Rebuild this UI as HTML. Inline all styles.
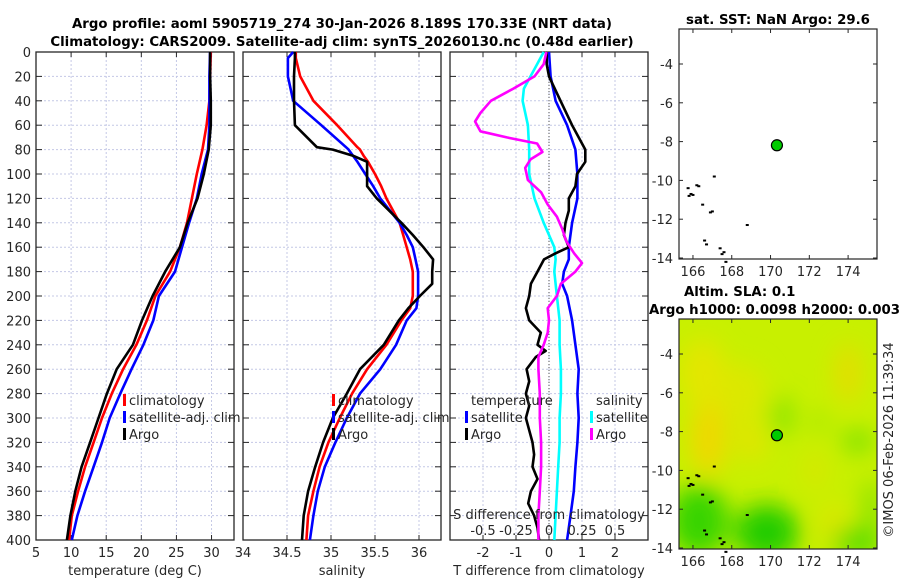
<!DOCTYPE html>
<html><head><meta charset="utf-8">
<style>
body{margin:0;background:#fff;}
svg{display:block;font-family:"DejaVu Sans","Liberation Sans",sans-serif;}
.tk{font-size:13px;fill:#262626;}
.tt{font-size:13.3px;font-weight:bold;fill:#000;}
</style></head>
<body>
<svg id="fig" width="900" height="580" viewBox="0 0 900 580" xmlns="http://www.w3.org/2000/svg">
<text class="tt" x="342" y="28" text-anchor="middle">Argo profile: aoml 5905719_274 30-Jan-2026 8.189S 170.33E (NRT data)</text>
<text class="tt" x="342" y="46" text-anchor="middle">Climatology: CARS2009. Satellite-adj clim: synTS_20260130.nc (0.48d earlier)</text>
<g id="g1"></g>
<g id="g2"></g>
<g id="g3"></g>
<g id="m1"></g>
<g id="m2"></g>
<text class="tt" x="778" y="24" text-anchor="middle">sat. SST: NaN Argo: 29.6</text>
<text class="tt" x="684" y="296">Altim. SLA: 0.1</text>
<text class="tt" x="649" y="314">Argo h1000: 0.0098 h2000: 0.0039</text>
<text class="tk" x="0" y="0" transform="translate(893,440) rotate(-90)" text-anchor="middle">©IMOS 06-Feb-2026 11:39:34</text>
</svg>
<script>
// depth levels (m)
const depths=[0,20,40,60,80,100,120,140,160,180,200,220,240,260,280,300,320,340,360,380,400];
const tempClim=[29.9,29.8,29.7,29.3,28.7,27.9,27.2,26.5,25.5,24.1,22.0,20.8,19.3,17.4,15.8,14.4,13.2,12.0,11.0,10.1,9.7];
const tempSat=[29.8,29.7,29.7,29.7,29.5,28.6,27.9,26.8,25.8,24.8,22.5,21.7,20.3,18.6,17.0,15.5,14.4,13.2,12.0,10.9,10.1];
const tempArgo=[29.8,29.8,29.9,29.9,29.6,28.9,28.0,26.6,25.5,23.4,21.6,20.1,18.8,16.5,15.1,13.9,12.7,11.5,10.6,9.9,9.4];
const salDepths=[0,5,20,40,60,78,80,85,90,100,110,120,140,150,160,170,180,190,200,210,220,240,260,280,300,320,340,360,380,400];
const salClim=[34.60,34.60,34.65,34.80,35.07,35.30,35.33,35.37,35.42,35.50,35.57,35.63,35.78,35.82,35.86,35.90,35.93,35.93,35.93,35.90,35.80,35.63,35.41,35.24,35.10,34.97,34.87,34.80,34.74,34.72];
const salSat=[34.57,34.51,34.51,34.57,34.89,35.17,35.20,35.25,35.30,35.39,35.48,35.56,35.78,35.86,35.93,35.96,35.99,35.99,35.99,35.97,35.86,35.74,35.56,35.33,35.18,35.05,34.93,34.85,34.80,34.76];
const salArgo=[34.59,34.59,34.58,34.58,34.59,34.84,35.02,35.25,35.41,35.41,35.41,35.52,35.80,35.93,36.05,36.16,36.15,36.15,36.01,35.88,35.77,35.60,35.33,35.18,35.02,34.91,34.82,34.74,34.69,34.67];
const dT_depths=[0,10,20,40,60,80,90,100,110,120,130,140,150,160,165,170,180,190,200,210,220,230,240,245,250,260,270,280,290,300,310,320,330,340,350,360,370,380,390,400];
const dT_argo=[-0.07,-0.07,0,0.35,0.7,1.1,1.1,0.85,0.8,0.6,0.6,0.5,0.45,0.6,0.2,-0.15,-0.35,-0.55,-0.6,-0.7,-0.6,-0.25,-0.35,-0.1,-0.4,-0.68,-0.6,-0.7,-0.6,-0.7,-0.6,-0.5,-0.45,-0.5,-0.35,-0.55,-0.63,-0.45,-0.35,-0.3];
const dT_sat_depths=[0,20,40,60,80,100,120,140,160,170,180,190,200,220,240,260,280,300,320,340,360,380,400];
const dT_sat=[0,0.05,0.2,0.55,0.8,0.86,0.86,0.7,0.6,0.6,0.45,0.4,0.55,0.7,0.8,0.9,0.86,0.9,0.86,0.8,0.75,0.65,0.55];
const dS_sat_depths=[0,10,20,30,40,60,80,100,120,140,160,170,180,200,220,240,260,280,300,320,340,360,380,400];
const dS_sat=[-0.04,-0.09,-0.14,-0.19,-0.2,-0.16,-0.15,-0.15,-0.11,-0.04,0.04,0.05,0.04,0.06,0.08,0.08,0.09,0.09,0.08,0.08,0.07,0.06,0.05,0.04];
const dS_argo_depths=[0,10,20,30,40,50,57,65,70,75,82,88,95,105,115,125,135,145,155,165,173,180,190,200,210,220,230,240,250,260,280,300,320,340,360,380,400];
const dS_argo=[-0.02,-0.04,-0.11,-0.27,-0.44,-0.52,-0.56,-0.52,-0.32,-0.09,-0.05,-0.14,-0.18,-0.16,-0.06,-0.01,0.06,0.1,0.13,0.19,0.25,0.2,0.09,0.06,-0.01,0,-0.01,-0.04,-0.08,-0.08,-0.07,-0.07,-0.06,-0.06,-0.07,-0.08,-0.08];
const yTicks=[0,20,40,60,80,100,120,140,160,180,200,220,240,260,280,300,320,340,360,380,400];
const tTicks=[5,10,15,20,25,30];
const sTicks=[34,34.5,35,35.5,36];
const dTTicks=[-2,-1,0,1,2];
const dSTicks=[-0.5,-0.25,0,0.25,0.5];
const dSLabels=["-0.5","-0.25","0","0.25","0.5"];
const argoLon=170.33, argoLat=-8.189;
const lonTicks=[166,168,170,172,174];
const latTicks=[-4,-6,-8,-10,-12,-14];
const coastLon=[165.8,165.9,166.0,166.2,166.5,166.6,166.7,166.9,167.0,167.1,167.4,167.5,167.6,167.7,168.8,166.3,165.75];
const coastLat=[-10.8,-10.7,-10.75,-10.25,-11.25,-13.1,-13.3,-11.65,-11.6,-9.8,-13.5,-13.8,-13.7,-14.2,-12.3,-10.3,-10.4];

const NS="http://www.w3.org/2000/svg";
function mk(parent,tag,attrs,text){const e=document.createElementNS(NS,tag);for(const k in attrs)e.setAttribute(k,attrs[k]);if(text!==undefined)e.textContent=text;parent.appendChild(e);return e;}
const Y0=52,Y1=540;
const yScale=d=>Y0+(d/400)*(Y1-Y0);
function lin(d0,d1,r0,r1){return v=>r0+(v-d0)/(d1-d0)*(r1-r0);}

function panel(g,x0,x1,xs,ticks,labels,ylabels,name){
  yTicks.forEach(t=>{const l=mk(g,'line',{x1:x0,x2:x1,y1:yScale(t),y2:yScale(t),stroke:'#c4c8e6','stroke-width':1,'stroke-dasharray':'2,2'});
    
    
    mk(g,'line',{x1:x0,x2:x0+6,y1:yScale(t),y2:yScale(t),stroke:'#262626'});
    mk(g,'line',{x1:x1-6,x2:x1,y1:yScale(t),y2:yScale(t),stroke:'#262626'});
    if(ylabels){const tx=mk(g,'text',{class:'tk',x:x0-5,y:yScale(t)+5,'text-anchor':'end'},String(t));
      
      }
  });
  ticks.forEach((t,i)=>{const x=xs(t); if(x<x0-1||x>x1+1)return;
    const l=mk(g,'line',{x1:x,x2:x,y1:Y0,y2:Y1,stroke:'#c4c8e6','stroke-width':1,'stroke-dasharray':'2,2'});
    
    
    mk(g,'line',{x1:x,x2:x,y1:Y0,y2:Y0+5,stroke:'#262626'});
    mk(g,'line',{x1:x,x2:x,y1:Y1-5,y2:Y1,stroke:'#262626'});});
  ticks.forEach((t,i)=>{const x=xs(t); if(x<x0-4||x>x1+1)return;
    const tx=mk(g,'text',{class:'tk',x:x,y:557,'text-anchor':'middle'},labels[i]);
    
    });
  const r=mk(g,'rect',{x:x0,y:Y0,width:x1-x0,height:Y1-Y0,fill:'none',stroke:'#262626','stroke-width':1.3});
  
  
}
function line(g,xs,vals,ds,color,name,w){
  const p=vals.map((v,i)=>(i?'L':'M')+xs(v).toFixed(1)+','+yScale(ds[i]).toFixed(1)).join('');
  const e=mk(g,'path',{d:p,fill:'none',stroke:color,'stroke-width':w||2.6,'stroke-linejoin':'round'});
  
  
}
function legend(g,x,y,items){
  items.forEach((it,i)=>{
    const yy=y+i*17;
    const m=mk(g,'rect',{x:x-6,y:yy-11,width:3,height:12,fill:it[1]});
    
    
    const t=mk(g,'text',{class:'tk',x:x,y:yy},it[0]);
    
    
  });
}
const g1=document.getElementById('g1');
const xT=lin(5,33.2,36,234);
panel(g1,36,234,xT,tTicks,tTicks.map(String),true,'temperature');
line(g1,xT,tempClim,depths,'#ff0000','temp-climatology-line');
line(g1,xT,tempSat,depths,'#0000ff','temp-satellite-line');
line(g1,xT,tempArgo,depths,'#000000','temp-argo-line');
legend(g1,129,405,[['climatology','#ff0000'],['satellite-adj. clim','#0000ff'],['Argo','#000']]);
let t=mk(g1,'text',{class:'tk',x:135,y:575,'text-anchor':'middle'},'temperature (deg C)');


const g2=document.getElementById('g2');
const xS=lin(34,36.25,243,441);
panel(g2,243,441,xS,sTicks,sTicks.map(String),false,'salinity');
line(g2,xS,salClim,salDepths,'#ff0000','sal-climatology-line');
line(g2,xS,salSat,salDepths,'#0000ff','sal-satellite-line');
line(g2,xS,salArgo,salDepths,'#000000','sal-argo-line');
legend(g2,338,405,[['climatology','#ff0000'],['satellite-adj. clim','#0000ff'],['Argo','#000']]);
t=mk(g2,'text',{class:'tk',x:342,y:575,'text-anchor':'middle'},'salinity');


const g3=document.getElementById('g3');
const xdT=lin(-3,3,450,648), xdS=lin(-0.75,0.75,450,648);
panel(g3,450,648,xdT,dTTicks,dTTicks.map(String),false,'difference');
let z=mk(g3,'line',{x1:xdT(0),x2:xdT(0),y1:Y0,y2:Y1,stroke:'#555','stroke-width':1,'stroke-dasharray':'1,2'});


line(g3,xdT,dT_sat,dT_sat_depths,'#0000ff','dT-satellite-line');
line(g3,xdS,dS_sat,dS_sat_depths,'#00ffff','dS-satellite-line');
line(g3,xdT,dT_argo,dT_depths,'#000000','dT-argo-line');
line(g3,xdS,dS_argo,dS_argo_depths,'#ff00ff','dS-argo-line');
t=mk(g3,'text',{class:'tk',x:471,y:405},'temperature');


t=mk(g3,'text',{class:'tk',x:596,y:405},'salinity');


legend(g3,471,422,[['satellite','#0000ff'],['Argo','#000']]);
legend(g3,596,422,[['satellite','#00ffff'],['Argo','#ff00ff']]);
t=mk(g3,'text',{class:'tk',x:549,y:519,'text-anchor':'middle'},'S difference from climatology');


dSTicks.forEach((v,i)=>{const tx=mk(g3,'text',{class:'tk',x:xdS(v),y:535,'text-anchor':'middle'},dSLabels[i]);
  
  });
t=mk(g3,'text',{class:'tk',x:549,y:575,'text-anchor':'middle'},'T difference from climatology');



const lonS=lin(165.28,175.49,679,877);
function map(g,y0,y1,name,fill){
  const latS=lin(-4,-14,y0+(y1-y0)*35/230,y0+(y1-y0)*229/230);
  const W=877-679,H=y1-y0;
  if(fill){
    const defs=mk(g,'defs',{});
    const f=mk(defs,'filter',{id:'bl',x:'-50%',y:'-50%',width:'200%',height:'200%'});
    mk(f,'feGaussianBlur',{stdDeviation:12});
    const cp=mk(defs,'clipPath',{id:'cp'}); mk(cp,'rect',{x:679,y:y0,width:W,height:H});
    const bg=mk(g,'g',{'clip-path':'url(#cp)'});
    const r=mk(bg,'rect',{x:679,y:y0,width:W,height:H,fill:'#c8f000'});
    
    
    const blobs=[[166.8,-8.3,18,38,'#f0d800'],[166.5,-5,22,35,'#e4e600'],[168.5,-6,25,30,'#dce800'],[169,-8.5,14,20,'#e2e400'],[174,-5,12,30,'#e6dc00'],[173.3,-12.8,14,22,'#dce600'],[172.3,-10,10,20,'#d8e600'],
      [169.8,-13.2,32,28,'#22cc00'],[166.3,-12.6,30,36,'#38d400'],[174.5,-13.7,25,14,'#50dc00'],[170.6,-7.2,8,20,'#70e000'],[174.5,-8.5,16,10,'#70e000'],[172.5,-7.5,8,8,'#90e400'],[175.2,-12,8,30,'#7ae000']];
    const bg2=mk(bg,'g',{filter:'url(#bl)'});
    blobs.forEach(b=>{const e=mk(bg2,'ellipse',{cx:lonS(b[0]),cy:latS(b[1]),rx:b[2],ry:b[3],fill:b[4]});
      
      });
  }
  coastLon.forEach((lo,i)=>{const c=mk(g,'rect',{x:lonS(lo)-1.5,y:latS(coastLat[i])-1,width:3,height:2,fill:'#000'});
    
    });
  lonTicks.forEach(v=>{const x=lonS(v);
    mk(g,'line',{x1:x,x2:x,y1:y1,y2:y1-4,stroke:'#262626'});mk(g,'line',{x1:x,x2:x,y1:y0,y2:y0+4,stroke:'#262626'});
    const tx=mk(g,'text',{class:'tk',x:x,y:y1+17,'text-anchor':'middle'},String(v));
    
    });
  latTicks.forEach(v=>{const y=latS(v);
    mk(g,'line',{x1:679,x2:683,y1:y,y2:y,stroke:'#262626'});mk(g,'line',{x1:873,x2:877,y1:y,y2:y,stroke:'#262626'});
    const tx=mk(g,'text',{class:'tk',x:673,y:y+5,'text-anchor':'end'},String(v));
    
    });
  const b=mk(g,'rect',{x:679,y:y0,width:W,height:H,fill:'none',stroke:'#262626','stroke-width':1.2});
  
  
  const p=mk(g,'circle',{cx:lonS(argoLon),cy:latS(argoLat),r:5.5,fill:'#00cc00',stroke:'#000','stroke-width':1.2});
  
  
}
map(document.getElementById('m1'),29,259,'sst-map',false);
map(document.getElementById('m2'),319,549,'sla-map',true);
</script>
</body></html>
